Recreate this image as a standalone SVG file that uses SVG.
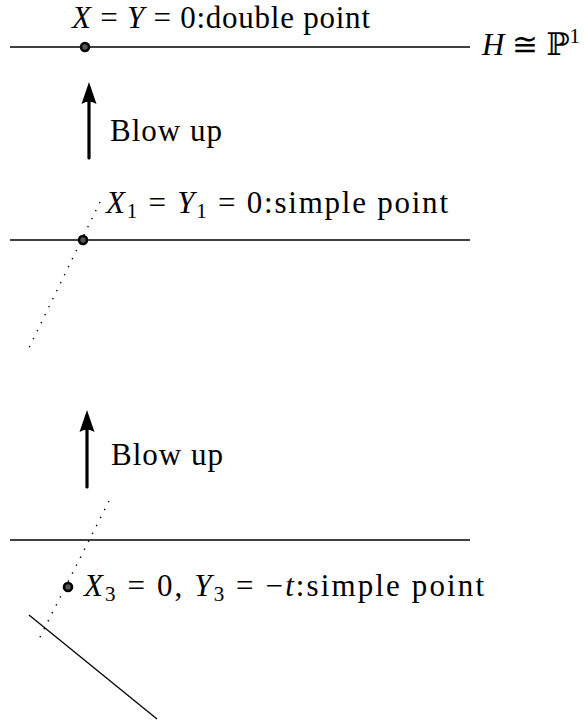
<svg xmlns="http://www.w3.org/2000/svg" width="584" height="727" viewBox="0 0 584 727">
<style>
text{font-family:'Liberation Serif','DejaVu Serif',serif;font-size:31px;fill:#000}
.i{font-style:italic}
.s{font-size:21px}
.ln{stroke:#000;stroke-width:1.3;fill:none}
.dot{stroke:#000;stroke-width:1.4;fill:none;stroke-dasharray:1.4 7.5}
.pt{fill:#555;stroke:#000;stroke-width:2.6}
.ar{stroke:#000;stroke-width:3.2;fill:none;stroke-linecap:round}
</style>
<defs>
<path id="head" d="M0,0 L7.5,22 Q0,17 -7.5,22 Z" fill="#000"/>
</defs>
<g id="level0">
<line class="ln" x1="10" y1="47" x2="470" y2="47"/>
<circle class="pt" cx="85" cy="47" r="4"/>
<text x="72" y="28" font-size="30" textLength="298"><tspan class="i">X</tspan> = <tspan class="i">Y</tspan> = 0:double point</text>
<text x="482" y="55" textLength="98"><tspan class="i">H</tspan> ≅ <tspan font-family="DejaVu Serif, serif">ℙ</tspan><tspan class="s" dy="-12">1</tspan></text>
</g>
<g id="level1">
<line class="ln" x1="10" y1="240" x2="470" y2="240"/>
<line class="dot" x1="100" y1="202" x2="27" y2="352"/>
<circle class="pt" cx="83" cy="240" r="4"/>
<text x="106" y="213" textLength="342"><tspan class="i">X</tspan><tspan class="s" dy="5">1</tspan><tspan dy="-5"> = </tspan><tspan class="i">Y</tspan><tspan class="s" dy="5">1</tspan><tspan dy="-5"> = 0:simple point</tspan></text>
</g>
<g id="level2">
<line class="ln" x1="10" y1="540" x2="470" y2="540"/>
<line class="dot" x1="109" y1="501" x2="37" y2="643"/>
<line class="ln" x1="29" y1="615" x2="157" y2="719"/>
<circle class="pt" cx="68" cy="587" r="4"/>
<text x="84" y="596" textLength="400"><tspan class="i">X</tspan><tspan class="s" dy="5">3</tspan><tspan dy="-5"> = 0, </tspan><tspan class="i">Y</tspan><tspan class="s" dy="5">3</tspan><tspan dy="-5"> = −</tspan><tspan class="i">t</tspan>:simple point</text>
</g>
<g id="connectors">
<line class="ar" x1="89" y1="158" x2="89" y2="98"/>
<use href="#head" x="89" y="82"/>
<text x="110" y="141" textLength="112">Blow up</text>
<line class="ar" x1="87" y1="487" x2="87" y2="426"/>
<use href="#head" x="87" y="410"/>
<text x="111" y="465" textLength="112">Blow up</text>
</g>
</svg>
